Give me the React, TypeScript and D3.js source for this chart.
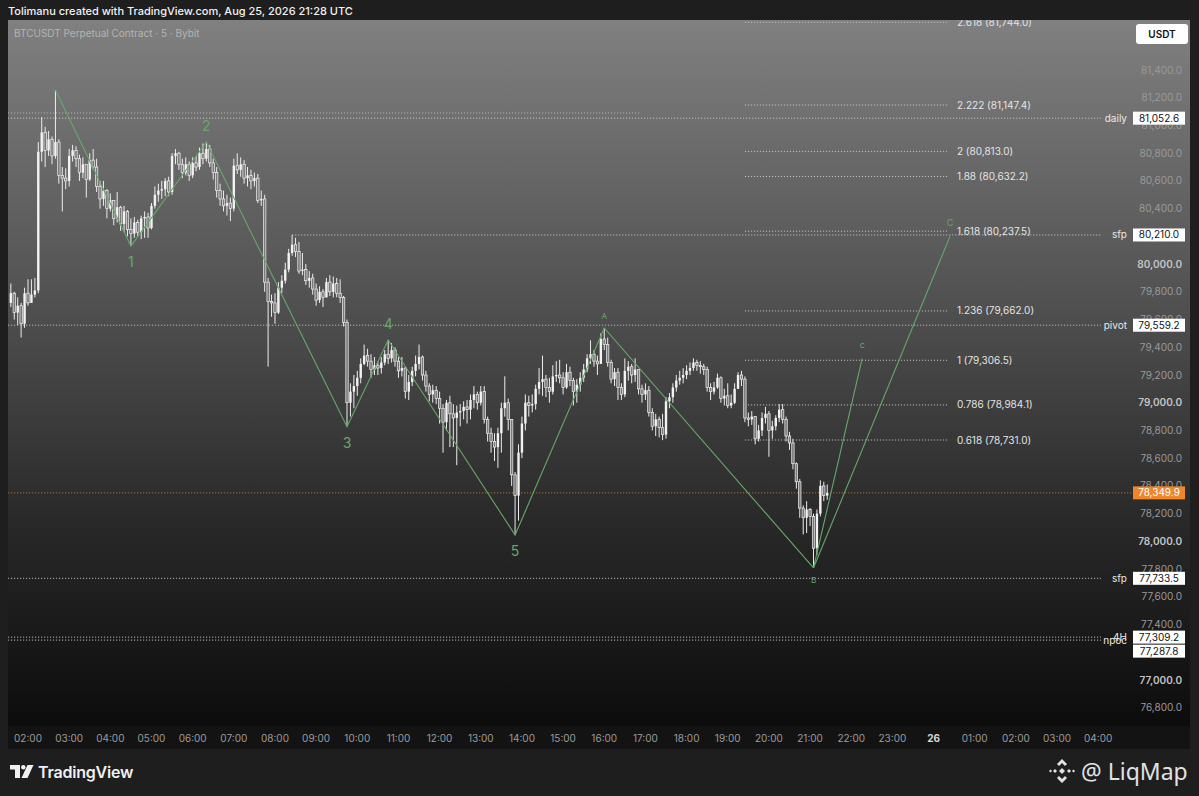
import React, { useEffect } from "react";
import * as d3 from "d3";

// ---------- DATA ----------
const startTime = "2026-08-25T01:35:00Z"; // first 5m bar
const firstOpen = 79720;
const closes = [
  79790,79650,79700,79570,79790,79720,79780,79810,
  80810,80950,80820,80900,80780,80880,80640,80620,
  80600,80780,80820,80760,80660,80720,80610,80750,
  80700,80560,80470,80530,80400,80460,80330,80410,
  80290,80380,80250,80220,80300,80230,80330,80340,
  80260,80420,80500,80530,80540,80600,80520,80780,
  80800,80720,80660,80720,80640,80730,80700,80800,
  80760,80830,80730,80660,80530,80470,80420,80440,
  80400,80710,80680,80720,80620,80640,80600,80620,
  80460,80470,79870,79730,79720,79650,79830,79880,
  79960,80080,80140,80090,79950,79960,79880,79900,
  79820,79740,79800,79760,79870,79800,79860,79790,
  79760,79580,79000,79080,79120,79180,79280,79340,
  79300,79240,79270,79250,79290,79350,79320,79380,
  79300,79230,79250,79080,79150,79230,79280,79330,
  79200,79120,79060,79090,79030,78960,78860,79000,
  78920,78890,78930,78940,78970,78950,79020,79060,
  79000,79080,78880,78780,78720,78680,78780,78960,
  79000,78880,78480,78330,78640,78850,79000,78980,
  78990,79100,79150,79170,79110,79080,79190,79200,
  79180,79110,79220,79160,79080,79130,79180,79240,
  79320,79350,79300,79280,79460,79420,79290,79170,
  79220,79110,79060,79230,79260,79200,79240,79100,
  79060,79090,78930,78830,78880,78820,78770,79010,
  79040,79110,79160,79180,79200,79230,79250,79290,
  79270,79260,79240,79110,79080,79110,79180,79030,
  79050,78980,79000,79100,79200,79170,78890,78880,
  78900,78740,78800,78890,78920,78800,78830,78890,
  78950,78880,78760,78710,78560,78430,78240,78170,
  78230,78180,77950,78200,78400,78330,78349.9,
];
const highs = [
  79860,79800,79760,79720,79830,79890,79890,79900,
  80880,81060,80990,80960,80920,81256,80900,80700,
  80690,80830,80860,80850,80790,80770,80720,80800,
  80830,80760,80600,80600,80540,80510,80440,80520,
  80420,80420,80390,80330,80340,80320,80350,80380,
  80370,80440,80560,80580,80600,80620,80630,80800,
  80830,80810,80760,80770,80740,80770,80780,80840,
  80870,80881,80860,80760,80700,80580,80530,80500,
  80480,80760,80800,80770,80750,80700,80680,80660,
  80650,80530,80500,79900,79780,79790,79870,79920,
  80010,80110,80210,80190,80160,80080,80000,79950,
  79930,79860,79840,79820,79900,79920,79910,79900,
  79890,79770,79600,79140,79200,79230,79320,79420,
  79390,79350,79330,79300,79330,79380,79452,79430,
  79400,79330,79330,79260,79200,79260,79340,79420,
  79340,79230,79140,79130,79120,79080,78990,79020,
  79050,78990,78980,78990,79010,79020,79060,79120,
  79080,79120,79120,78900,78820,78780,78820,79000,
  79190,79030,78700,78500,78700,78900,79060,79050,
  79060,79130,79250,79340,79200,79180,79270,79300,
  79310,79220,79280,79260,79180,79170,79220,79280,
  79350,79450,79380,79340,79500,79539,79470,79310,
  79250,79250,79140,79320,79300,79280,79320,79240,
  79130,79140,79120,78960,78920,78900,78920,79040,
  79070,79140,79200,79230,79250,79270,79290,79320,
  79310,79300,79280,79260,79140,79150,79210,79190,
  79100,79140,79060,79140,79220,79230,79190,78930,
  78940,78900,78840,78930,78970,78940,78870,78910,
  78990,78990,78900,78790,78740,78570,78450,78260,
  78290,78240,78200,78230,78440,78430,78410,
];
const lows = [
  79690,79600,79560,79470,79540,79700,79730,79760,
  79790,80740,80700,80780,80720,80760,80580,80380,
  80540,80560,80740,80700,80600,80620,80480,80600,
  80680,80520,80400,80420,80330,80380,80280,80300,
  80240,80230,80200,80130,80190,80200,80180,80190,
  80190,80250,80400,80450,80470,80490,80490,80500,
  80720,80680,80620,80640,80600,80620,80670,80680,
  80720,80740,80700,80610,80480,80420,80380,80350,
  80310,80380,80650,80630,80580,80560,80540,80560,
  80440,80420,79800,79260,79620,79570,79640,79790,
  79860,79940,80060,80050,79930,79920,79850,79830,
  79780,79700,79720,79690,79760,79770,79760,79760,
  79720,79550,78830,78900,78960,79050,79140,79270,
  79260,79180,79200,79200,79210,79270,79280,79290,
  79260,79180,79190,79030,79020,79120,79190,79240,
  79160,79080,79010,79000,78990,78850,78640,78800,
  78680,78680,78550,78830,78880,78850,78880,78960,
  78950,78980,78850,78720,78640,78580,78530,78640,
  78900,78800,78400,78046,78150,78600,78800,78900,
  78930,78950,79060,79050,79040,79000,79060,79150,
  79140,79060,79100,79120,78980,79000,79080,79150,
  79220,79280,79260,79200,79280,79380,79260,79140,
  79120,79020,79020,79040,79160,79140,79150,79060,
  79000,79020,78900,78800,78760,78750,78730,78740,
  78960,79000,79080,79130,79140,79170,79200,79230,
  79230,79210,79200,79080,79020,79060,79100,79000,
  78980,78960,78960,78990,79100,79120,78860,78830,
  78840,78700,78720,78760,78850,78610,78740,78800,
  78860,78850,78720,78660,78520,78380,78170,78050,
  78060,78110,77808,77900,78180,78290,78300,
];

// Elliott wave path
const waveLabels = ["", "1", "2", "3", "4", "5", "A", "B"];
const waveTimes = ["02:40","04:30","06:20","09:45","10:45","13:50","16:00","21:05"];
const wavePrices = [81256, 80130, 80881, 78826, 79452, 78046, 79539, 77808];
// projections from B
const projLabels = ["c", "C"];
const projTimes = ["2026-08-25T22:16:00Z", "2026-08-26T00:24:00Z"];
const projPrices = [79320, 80200];

// Fibonacci extension
const fibRatios = ["2.618","2.222","2","1.88","1.618","1.236","1","0.786","0.618"];
const fibPrices = [81744.0, 81147.4, 80813.0, 80632.2, 80237.5, 79662.0, 79306.5, 78984.1, 78731.0];
const fibStart = "2026-08-25T19:25:00Z";
const fibEnd = "2026-08-26T00:21:00Z";

// horizontal levels
const levelNames = ["daily", "sfp", "pivot", "sfp", "4H", "npoc"];
const levelPrices = [81052.6, 80210.0, 79559.2, 77733.5, 77309.2, 77287.8];
const levelStarts = [null, "2026-08-25T08:25:00Z", null, null, null, null];
const lastPrice = 78349.9;

// axis ticks
const priceTicks = [81400,81200,81000,80800,80600,80400,80200,80000,79800,79600,79400,79200,79000,78800,78600,78400,78200,78000,77800,77600,77400,77200,77000,76800];
const timeTickLabels = ["02:00","03:00","04:00","05:00","06:00","07:00","08:00","09:00","10:00","11:00","12:00","13:00","14:00","15:00","16:00","17:00","18:00","19:00","20:00","21:00","22:00","23:00","26","01:00","02:00","03:00","04:00"];

// ---------- LAYOUT ----------
const W = 1199, H = 796;
const FONT = "Inter, 'Noto Sans', Roboto, sans-serif";

export default function App() {
  useEffect(() => {
    document.body.style.margin = "0";
    document.body.style.background = "#1e1e1e";
  }, []);

  const t0 = new Date("2026-08-25T02:00:00Z");
  const t1 = new Date("2026-08-26T04:00:00Z");
  const x = d3.scaleUtc().domain([t0, t1]).range([28, 1098.2]);
  const y = d3.scaleLinear().domain([77000, 81400]).range([680, 70]);

  const start = new Date(startTime).getTime();
  const bars = closes.map((c, i) => {
    const o = i === 0 ? firstOpen : closes[i - 1];
    const t = new Date(start + i * 5 * 60000);
    return { t, o, c, h: Math.max(highs[i], o, c), l: Math.min(lows[i], o, c) };
  });
  const bw = 2.4;

  const wavePts = waveTimes.map((s, i) => ({
    x: x(new Date(`2026-08-25T${s}:00Z`)),
    y: y(wavePrices[i]),
    label: waveLabels[i],
  }));
  const line = d3.line<{ x: number; y: number }>().x((d) => d.x).y((d) => d.y);
  const B = wavePts[wavePts.length - 1];
  const projPts = projTimes.map((s, i) => ({ x: x(new Date(s)), y: y(projPrices[i]), label: projLabels[i] }));

  const tickDates = d3.utcHour.every(1)!.range(t0, new Date(t1.getTime() + 1));
  const fmt = d3.format(",.1f");

  const green = "#64a86a";
  const dotted = "1.2,1.8";
  const plotRight = 1101;

  // label boxes with stacking
  const boxes: { y: number; text: string; name: string; ly: number }[] = [];
  levelPrices.forEach((p, i) => {
    boxes.push({ y: y(p), text: fmt(p), name: levelNames[i], ly: y(p) });
  });
  boxes.sort((a, b) => a.y - b.y);
  for (let i = 1; i < boxes.length; i++) {
    if (boxes[i].y - boxes[i - 1].y < 14) boxes[i].y = boxes[i - 1].y + 14;
  }

  const bigTicks = new Set([80000, 79000, 78000, 77000]);

  return (
    <svg width={W} height={H} style={{ display: "block", position: "absolute", left: 0, top: 0 }} fontFamily={FONT}>
      <defs>
        <linearGradient id="bg" x1="0" y1="0" x2="0" y2="1">
          <stop offset="0" stopColor="#808080" />
          <stop offset="0.35" stopColor="#575757" />
          <stop offset="0.7" stopColor="#2a2a2a" />
          <stop offset="1" stopColor="#0c0c0c" />
        </linearGradient>
        <clipPath id="plot">
          <rect x={8} y={20} width={1182} height={706} />
        </clipPath>
      </defs>
      <rect x={0} y={0} width={W} height={H} fill="#1e1e1e" />
      {/* header */}
      <text x={8} y={15} fill="#f2f2f2" fontSize={11} fontWeight={500}>
        Tolimanu created with TradingView.com, Aug 25, 2026 21:28 UTC
      </text>
      {/* chart panel */}
      <rect x={8} y={20} width={1182} height={706} fill="url(#bg)" />
      <text x={14} y={37} fill="#b4b4b4" fontSize={10}>BTCUSDT Perpetual Contract · 5 · Bybit</text>

      <g clipPath="url(#plot)">
        {/* extra faint level near daily */}
        <line x1={8} x2={640} y1={y(81090)} y2={y(81090)} stroke="#c8c8c8" strokeWidth={1} strokeDasharray={dotted} opacity={0.7} />
        {/* horizontal levels */}
        {levelPrices.map((p, i) => (
          <line key={"lv" + i}
            x1={levelStarts[i] ? x(new Date(levelStarts[i] as string)) : 8}
            x2={plotRight} y1={y(p)} y2={y(p)}
            stroke="#d0d0d0" strokeWidth={1} strokeDasharray={dotted} opacity={0.85} />
        ))}
        {/* current price line */}
        <line x1={8} x2={1132} y1={y(lastPrice)} y2={y(lastPrice)} stroke="#c7823e" strokeWidth={1} strokeDasharray={dotted} opacity={0.8} />

        {/* fib lines */}
        {fibPrices.map((p, i) => (
          <g key={"fib" + i}>
            <line x1={x(new Date(fibStart))} x2={x(new Date(fibEnd))} y1={y(p)} y2={y(p)}
              stroke="#cfcfcf" strokeWidth={1} strokeDasharray={dotted} opacity={0.85} />
            <text x={x(new Date(fibEnd)) + 9} y={y(p)} dy="0.35em" fill="#e4e4e4" fontSize={10}>
              {`${fibRatios[i]} (${fmt(p)})`}
            </text>
          </g>
        ))}

        {/* candles */}
        {bars.map((b, i) => {
          const cx = x(b.t);
          const up = b.c >= b.o;
          const top = y(Math.max(b.o, b.c));
          const bot = y(Math.min(b.o, b.c));
          return (
            <g key={"c" + i}>
              <line x1={cx} x2={cx} y1={y(b.h)} y2={y(b.l)} stroke="#ededed" strokeWidth={1} />
              <rect x={cx - bw / 2} y={top} width={bw} height={Math.max(1, bot - top)}
                fill={up ? "#f2f2f2" : "#7a7a7a"} stroke="#f2f2f2" strokeWidth={up ? 0 : 0.7} />
            </g>
          );
        })}

        {/* wave lines */}
        <path d={line(wavePts) || ""} fill="none" stroke={green} strokeWidth={1.1} />
        {projPts.map((p, i) => (
          <line key={"pj" + i} x1={B.x} y1={B.y} x2={p.x} y2={p.y} stroke={green} strokeWidth={1.1} />
        ))}
        {wavePts.map((p, i) => {
          if (!p.label) return null;
          const isLow = i % 2 === 1;
          const small = p.label === "A" || p.label === "B";
          return (
            <text key={"wl" + i} x={p.x} y={isLow ? p.y + (small ? 15 : 21) : p.y - (small ? 9 : 11)}
              textAnchor="middle" fill={green} fontSize={small ? 8 : 14}>
              {p.label}
            </text>
          );
        })}
        {projPts.map((p, i) => (
          <text key={"pl" + i} x={p.x} y={p.y - 10} textAnchor="middle" fill={green} fontSize={9}>{p.label}</text>
        ))}
      </g>

      {/* price axis labels */}
      {priceTicks.map((p) => (
        <text key={"pt" + p} x={1182} y={y(p)} dy="0.35em" textAnchor="end"
          fill={bigTicks.has(p) ? "#c4c4c4" : "#9a9a9a"} fontSize={10} fontWeight={bigTicks.has(p) ? 600 : 400}>
          {fmt(p)}
        </text>
      ))}

      {/* level names + boxes */}
      {boxes.map((b, i) => (
        <g key={"bx" + i}>
          <text x={1127} y={b.ly} dy="0.35em" textAnchor="end" fill="#e8e8e8" fontSize={10}>{b.name}</text>
          <rect x={1133} y={b.y - 6.5} width={52} height={13} fill="#ffffff" />
          <text x={1159} y={b.y} dy="0.35em" textAnchor="middle" fill="#111" fontSize={10}>{b.text}</text>
        </g>
      ))}
      {/* last price box */}
      <rect x={1133} y={y(lastPrice) - 6.5} width={52} height={13} fill="#f0862a" />
      <text x={1159} y={y(lastPrice)} dy="0.35em" textAnchor="middle" fill="#ffffff" fontSize={10}>{fmt(lastPrice)}</text>

      {/* USDT box */}
      <rect x={1136} y={24} width={52} height={20} rx={3} fill="#ffffff" />
      <text x={1162} y={34} dy="0.35em" textAnchor="middle" fill="#131313" fontSize={10} fontWeight={600}>USDT</text>

      {/* time axis */}
      <rect x={8} y={726} width={1182} height={23} fill="#131313" />
      {tickDates.map((d, i) => (
        <text key={"tt" + i} x={x(d)} y={742} textAnchor="middle"
          fill={timeTickLabels[i] === "26" ? "#d8d8d8" : "#9c9c9c"} fontSize={10}
          fontWeight={timeTickLabels[i] === "26" ? 700 : 400}>
          {timeTickLabels[i]}
        </text>
      ))}

      {/* footer: TradingView logo */}
      <g fill="#f0f0f0">
        <path d="M10 765 H20 V778 H15 V769.5 H10 Z" />
        <circle cx={23.3} cy={767.2} r={2.2} />
        <path d="M27.5 765 H33.5 L27.5 778 H21.5 Z" />
      </g>
      <text x={38} y={778} fill="#f0f0f0" fontSize={16} fontWeight={600} letterSpacing={-0.2}>TradingView</text>

      {/* footer: LiqMap */}
      <g fill="#e2e2e2" transform="translate(1062,771)">
        <path d="M0 -12 L5 -7 L3 -5 L0 -8 L-3 -5 L-5 -7 Z" />
        <path d="M0 12 L5 7 L3 5 L0 8 L-3 5 L-5 7 Z" />
        <path d="M0 -3 L3 0 L0 3 L-3 0 Z" />
        <path d="M-9 0 L-7 -2 L-5 0 L-7 2 Z" />
        <path d="M9 0 L7 -2 L5 0 L7 2 Z" />
        <path d="M-13 0 L-11.5 -1.5 L-10 0 L-11.5 1.5 Z" />
        <path d="M13 0 L11.5 -1.5 L10 0 L11.5 1.5 Z" />
      </g>
      <text x={1081} y={780} fill="#e2e2e2" fontSize={23} fontWeight={400} fontFamily="'Noto Sans', 'Open Sans', sans-serif">@ LiqMap</text>
    </svg>
  );
}
